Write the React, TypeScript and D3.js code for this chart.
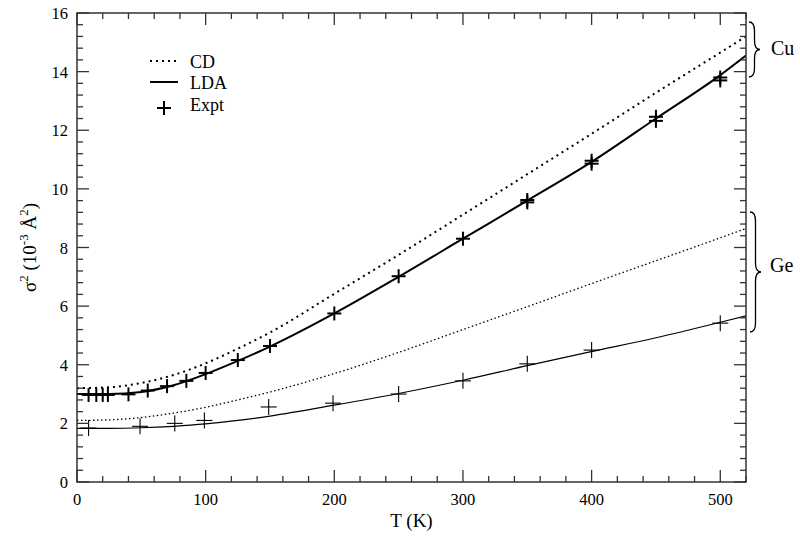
import React from "react";
import * as d3 from "d3";

// Temperatures (K) for the theory curves
const curveT = [0, 25, 50, 75, 100, 125, 150, 200, 250, 300, 350, 400, 450, 500, 520];
const cuLDA = [3.0, 3.0, 3.07, 3.3, 3.68, 4.13, 4.62, 5.75, 7.0, 8.3, 9.6, 10.92, 12.4, 13.88, 14.55];
const cuCD = [3.2, 3.23, 3.38, 3.65, 4.05, 4.55, 5.1, 6.42, 7.75, 9.12, 10.5, 11.88, 13.28, 14.65, 15.2];
const geLDA = [1.83, 1.83, 1.85, 1.9, 1.98, 2.1, 2.25, 2.62, 3.02, 3.47, 3.97, 4.45, 4.92, 5.45, 5.67];
const geCD = [2.1, 2.12, 2.2, 2.35, 2.55, 2.8, 3.07, 3.7, 4.42, 5.2, 5.98, 6.77, 7.55, 8.33, 8.65];

// Experimental points
const cuExptT = [9, 15, 20, 24, 40, 55, 70, 85, 100, 125, 150, 200, 250, 300, 350, 350, 400, 400, 450, 450, 500, 500];
const cuExptV = [2.97, 2.97, 2.97, 2.97, 2.99, 3.12, 3.27, 3.45, 3.72, 4.16, 4.64, 5.75, 7.02, 8.3, 9.54, 9.62, 10.86, 10.96, 12.32, 12.46, 13.7, 13.8];
const geExptT = [9, 49, 76, 99, 149, 199, 250, 300, 350, 400, 500];
const geExptV = [1.84, 1.9, 2.0, 2.1, 2.56, 2.69, 3.0, 3.45, 4.03, 4.5, 5.42];

const xMajor = [0, 100, 200, 300, 400, 500];
const yMajor = [0, 2, 4, 6, 8, 10, 12, 14, 16];
const legendLabels = ["CD", "LDA", "Expt"];

const W = 800, H = 536;
const M = { left: 77, right: 54, top: 13, bottom: 54 };
const FONT = "Liberation Serif, DejaVu Serif, Times New Roman, serif";

export default function App() {
  const x = d3.scaleLinear().domain([0, 520]).range([M.left, W - M.right]);
  const y = d3.scaleLinear().domain([0, 16]).range([H - M.bottom, M.top]);
  const x0 = x(0), x1 = x(520), y0 = y(0), y1 = y(16);

  const line = d3
    .line<number>()
    .x((_, i) => x(curveT[i]))
    .y((d) => y(d))
    .curve(d3.curveMonotoneX);

  const xMinor = d3.range(0, 521, 20).filter((v) => v % 100 !== 0);
  const yMinor = d3.range(0, 16.01, 0.4).map((v) => +v.toFixed(1)).filter((v) => Math.abs(v / 2 - Math.round(v / 2)) > 1e-6);

  const plus = (cx: number, cy: number, h: number, sw: number, key: string) => (
    <g key={key} stroke="#000" strokeWidth={sw}>
      <line x1={cx - h} x2={cx + h} y1={cy} y2={cy} />
      <line x1={cx} x2={cx} y1={cy - h} y2={cy + h} />
    </g>
  );

  const brace = (bx: number, ya: number, yb: number, w: number) => {
    const ym = (ya + yb) / 2;
    const xm = bx + w / 2;
    const q = Math.min(9, (yb - ya) / 4);
    return `M${bx},${ya} Q${xm},${ya} ${xm},${ya + q} L${xm},${ym - q} Q${xm},${ym} ${bx + w},${ym} Q${xm},${ym} ${xm},${ym + q} L${xm},${yb - q} Q${xm},${yb} ${bx},${yb}`;
  };

  const majLen = 12, minLen = 6;
  const axisColor = "#333";
  const tf = { fontFamily: FONT };

  return (
    <svg width={W} height={H} style={{ position: "absolute", left: 0, top: 0, background: "#fff", fontFamily: FONT }}>
      <rect x={0} y={0} width={W} height={H} fill="#fff" />
      <defs>
        <clipPath id="plotclip">
          <rect x={x0} y={y1} width={x1 - x0} height={y0 - y1} />
        </clipPath>
      </defs>

      {/* curves */}
      <g clipPath="url(#plotclip)" fill="none" stroke="#000">
        <path d={line(cuCD) || ""} strokeWidth={2} strokeDasharray="2 4" />
        <path d={line(cuLDA) || ""} strokeWidth={2} />
        <path d={line(geCD) || ""} strokeWidth={1.3} strokeDasharray="1.5 2.5" />
        <path d={line(geLDA) || ""} strokeWidth={1.2} />
      </g>

      {/* experimental points */}
      {cuExptT.map((t, i) => plus(x(t), y(cuExptV[i]), 7, 2, "cu" + i))}
      {geExptT.map((t, i) => plus(x(t), y(geExptV[i]), 8, 1.1, "ge" + i))}

      {/* frame */}
      <rect x={x0} y={y1} width={x1 - x0} height={y0 - y1} fill="none" stroke={axisColor} strokeWidth={1.5} />

      {/* ticks */}
      <g stroke={axisColor} strokeWidth={1.3}>
        {xMajor.map((v) => (
          <g key={"xm" + v}>
            <line x1={x(v)} x2={x(v)} y1={y0} y2={y0 - majLen} />
            <line x1={x(v)} x2={x(v)} y1={y1} y2={y1 + majLen} />
          </g>
        ))}
        {xMinor.map((v) => (
          <g key={"xn" + v}>
            <line x1={x(v)} x2={x(v)} y1={y0} y2={y0 - minLen} />
            <line x1={x(v)} x2={x(v)} y1={y1} y2={y1 + minLen} />
          </g>
        ))}
        {yMajor.map((v) => (
          <g key={"ym" + v}>
            <line x1={x0} x2={x0 + majLen} y1={y(v)} y2={y(v)} />
            <line x1={x1} x2={x1 - majLen} y1={y(v)} y2={y(v)} />
          </g>
        ))}
        {yMinor.map((v) => (
          <g key={"yn" + v}>
            <line x1={x0} x2={x0 + minLen} y1={y(v)} y2={y(v)} />
            <line x1={x1} x2={x1 - minLen} y1={y(v)} y2={y(v)} />
          </g>
        ))}
      </g>

      {/* tick labels */}
      <g fontSize={16.5} fill="#000" style={tf}>
        {xMajor.map((v) => (
          <text key={"xl" + v} x={x(v)} y={y0 + 23} textAnchor="middle" style={tf}>
            {v}
          </text>
        ))}
        {yMajor.map((v) => (
          <text key={"yl" + v} x={x0 - 9} y={y(v) + 6} textAnchor="end" style={tf}>
            {v}
          </text>
        ))}
      </g>

      {/* axis titles */}
      <text x={(x0 + x1) / 2} y={527} fontSize={19} textAnchor="middle" style={tf}>
        T (K)
      </text>
      <text transform={`translate(36, ${(y0 + y1) / 2}) rotate(-90)`} fontSize={19} textAnchor="middle" style={tf}>
        σ<tspan dy={-8} fontSize={13}>2</tspan>
        <tspan dy={8}> (10</tspan>
        <tspan dy={-8} fontSize={13}>-3</tspan>
        <tspan dy={8}> Å</tspan>
        <tspan dy={-8} fontSize={13}>2</tspan>
        <tspan dy={8}>)</tspan>
      </text>

      {/* legend */}
      <g>
        <line x1={150} x2={178} y1={61} y2={61} stroke="#000" strokeWidth={2} strokeDasharray="2 4" />
        <line x1={150} x2={178} y1={82} y2={82} stroke="#000" strokeWidth={2} />
        {plus(164, 108, 7, 2, "leg")}
        {legendLabels.map((l, i) => (
          <text key={l} x={190} y={67.5 + i * 21.5} fontSize={18} style={tf}>
            {l}
          </text>
        ))}
      </g>

      {/* braces */}
      <g fill="none" stroke="#000" strokeWidth={1.3}>
        <path d={brace(749, 22, 77, 11)} />
        <path d={brace(750, 212, 332, 11)} />
      </g>
      <text x={771} y={55} fontSize={20} style={tf}>Cu</text>
      <text x={770} y={272} fontSize={20} style={tf}>Ge</text>
    </svg>
  );
}
